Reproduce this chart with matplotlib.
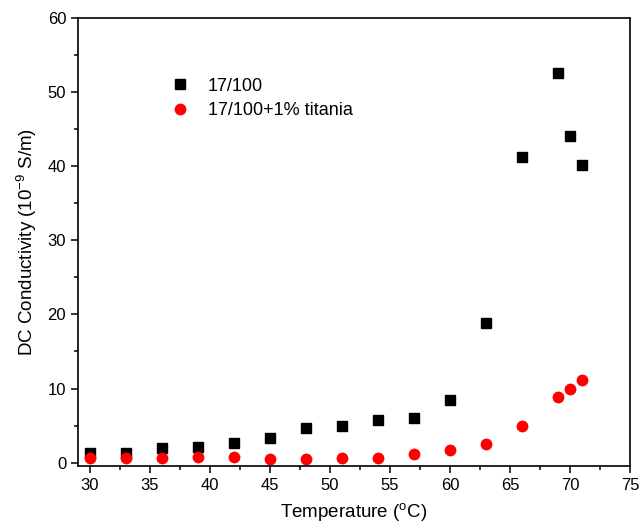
import matplotlib
matplotlib.use("Agg")
import matplotlib.pyplot as plt
from matplotlib.ticker import MultipleLocator

# Data
temperature = [30, 33, 36, 39, 42, 45, 48, 51, 54, 57, 60, 63, 66, 69, 70, 71]
cond_plain = [1.27, 1.35, 1.94, 2.1, 2.6, 3.3, 4.7, 4.9, 5.7, 6.0, 8.5, 18.9,
              41.2, 52.6, 44.1, 40.2]
cond_titania = [0.68, 0.68, 0.68, 0.77, 0.72, 0.45, 0.54, 0.68, 0.68, 1.2, 1.7,
                2.57, 5.0, 8.9, 9.9, 11.2]

plt.rcParams['font.family'] = ['Liberation Sans', 'DejaVu Sans']
plt.rcParams['mathtext.fontset'] = 'custom'
plt.rcParams['mathtext.rm'] = 'Liberation Sans'
plt.rcParams['mathtext.it'] = 'Liberation Sans'


def main():
    fig = plt.figure(figsize=(6.39, 5.27), dpi=100)
    ax = fig.add_axes([78 / 639, 1 - 466 / 527, 552 / 639, 448 / 527])

    ax.plot(temperature, cond_plain, 's', color='black', markersize=7,
            linestyle='none', label='17/100')
    ax.plot(temperature, cond_titania, 'o', color='red', markersize=8.5,
            markeredgewidth=0, linestyle='none', label='17/100+1% titania')

    ax.set_xlim(29, 75)
    ax.set_ylim(-0.45, 60)
    ax.xaxis.set_major_locator(MultipleLocator(5))
    ax.xaxis.set_minor_locator(MultipleLocator(2.5))
    ax.yaxis.set_major_locator(MultipleLocator(10))
    ax.yaxis.set_minor_locator(MultipleLocator(5))
    ax.tick_params(which='both', direction='out', top=False, right=False,
                   width=1.1, labelsize=12)
    ax.tick_params(which='major', length=5)
    ax.tick_params(which='minor', length=3)
    for s in ax.spines.values():
        s.set_linewidth(1.2)

    ax.set_xlabel('Temperature ($^{\\rm o}$C)', fontsize=13.5, labelpad=6)
    ax.set_ylabel('DC Conductivity (10$^{-9}$ S/m)', fontsize=13.5, labelpad=6)

    ax.legend(loc='upper left', bbox_to_anchor=(0.13, 0.895), frameon=False,
              fontsize=13, handletextpad=0.5, labelspacing=0.4,
              borderpad=0.2)

    fig.savefig('out.png', dpi=100)


if __name__ == '__main__':
    main()
